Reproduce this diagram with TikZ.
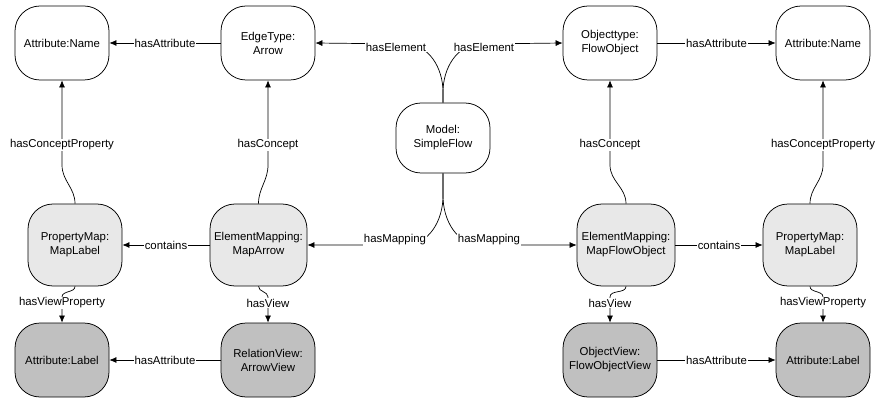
\documentclass[tikz,border=0pt]{standalone}
\usepackage{fontspec}
\setmainfont{Liberation Sans}
\usetikzlibrary{arrows.meta}
\definecolor{mapgray}{HTML}{E8E8E8}
\definecolor{viewgray}{HTML}{C0C0C0}
\begin{document}
\begin{tikzpicture}[x=1pt,y=-1pt,
  box/.style={draw, line width=0.75pt, rounded corners=25pt, minimum width=94pt,
    minimum height=74pt, align=center, inner sep=1pt,
    font=\fontsize{11.4}{14}\selectfont},
  mapbox/.style={box, fill=mapgray, minimum height=82pt},
  viewbox/.style={box, fill=viewgray},
  arr/.style={line width=0.7pt, -{Latex[length=7pt,width=6pt]}},
  lbl/.style={fill=white, inner sep=1pt, font=\fontsize{11.4}{13}\selectfont}]
\useasboundingbox (0,0) rectangle (875,398);
% row 1
\node[box] (ANL) at (62,43) {Attribute:Name};
\node[box] (E) at (268,43) {EdgeType:\\Arrow};
\node[box] (O) at (610,43) {Objecttype:\\FlowObject};
\node[box] (ANR) at (823,43) {Attribute:Name};
% model
\node[box, minimum height=70pt] (M) at (443,138) {Model:\\SimpleFlow};
% row 2
\node[mapbox] (PML) at (75,245) {PropertyMap:\\MapLabel};
\node[mapbox, minimum width=97pt] (EML) at (258.5,245) {ElementMapping:\\MapArrow};
\node[mapbox, minimum width=98pt] (EMR) at (626,245) {ElementMapping:\\MapFlowObject};
\node[mapbox] (PMR) at (810,245) {PropertyMap:\\MapLabel};
% row 3
\node[viewbox] (ALL) at (62,360) {Attribute:Label};
\node[viewbox] (RV) at (268,360) {RelationView:\\ArrowView};
\node[viewbox] (OV) at (610,360) {ObjectView:\\FlowObjectView};
\node[viewbox] (ALR) at (823,360) {Attribute:Label};
% helper coordinates
\coordinate (mt) at (443,92);
\coordinate (mb) at (443,196);
\coordinate (heL) at (405,44);
\coordinate (heR) at (481,44);
\coordinate (hmL) at (405,245);
\coordinate (hmR) at (481,245);
\coordinate (cpL) at (62,165);
\coordinate (ccL) at (268,165);
\coordinate (ccR) at (610,165);
\coordinate (cpR) at (823,165);
\coordinate (vpL) at (62,297);
\coordinate (vL) at (268,297);
\coordinate (vR) at (610,297);
\coordinate (vpR) at (823,297);
% row 1 edges
\draw[arr] (E.west) -- node[lbl]{hasAttribute} (ANL.east);
\draw[arr] (O.east) -- node[lbl]{hasAttribute} (ANR.west);
% hasElement
\draw[arr] (M.north) -- (mt) to[out=90,in=0] (heL) -- (E.east);
\draw[arr] (M.north) -- (mt) to[out=90,in=180] (heR) -- (O.west);
\node[lbl] (lheL) at (396,47) {hasElement};
\node[lbl] (lheR) at (484,47) {hasElement};
% hasMapping
\draw[arr] (M.south) -- (mb) to[out=-90,in=0] (hmL) -- (EML.east);
\draw[arr] (M.south) -- (mb) to[out=-90,in=180] (hmR) -- (EMR.west);
\node[lbl] (lhmL) at (395,240) {hasMapping};
\node[lbl] (lhmR) at (489,240) {hasMapping};
% concept edges
\draw[arr] (PML.north) to[out=90,in=-90] (cpL) -- (ANL.south);
\draw[arr] (EML.north) to[out=90,in=-90] (ccL) -- (E.south);
\draw[arr] (EMR.north) to[out=90,in=-90] (ccR) -- (O.south);
\draw[arr] (PMR.north) to[out=90,in=-90] (cpR) -- (ANR.south);
\node[lbl] (lcpL) at (62,145) {hasConceptProperty};
\node[lbl] (lccL) at (268,145) {hasConcept};
\node[lbl] (lccR) at (610,145) {hasConcept};
\node[lbl] (lcpR) at (823,145) {hasConceptProperty};
% contains
\draw[arr] (EML.west) -- node[lbl]{contains} (PML.east);
\draw[arr] (EMR.east) -- node[lbl]{contains} (PMR.west);
% view edges
\draw[arr] (PML.south) to[out=-90,in=90] (vpL) -- (ALL.north);
\draw[arr] (EML.south) to[out=-90,in=90] (vL) -- (RV.north);
\draw[arr] (EMR.south) to[out=-90,in=90] (vR) -- (OV.north);
\draw[arr] (PMR.south) to[out=-90,in=90] (vpR) -- (ALR.north);
\node[lbl] (lvpL) at (62,303) {hasViewProperty};
\node[lbl] (lvL) at (268,303) {hasView};
\node[lbl] (lvR) at (610,303) {hasView};
\node[lbl] (lvpR) at (823,303) {hasViewProperty};
% row 3 edges
\draw[arr] (RV.west) -- node[lbl]{hasAttribute} (ALL.east);
\draw[arr] (OV.east) -- node[lbl]{hasAttribute} (ALR.west);
\end{tikzpicture}
\end{document}
